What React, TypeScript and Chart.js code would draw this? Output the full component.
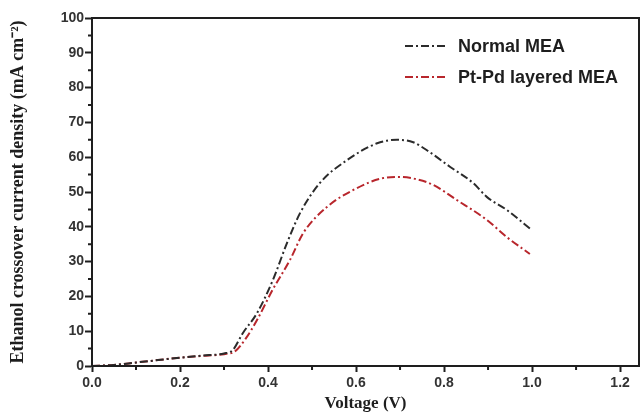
import React, { useEffect, useRef } from "react";
import { Chart, registerables } from "chart.js";

Chart.register(...registerables);

const normalVoltage = [0, 0.05, 0.1, 0.15, 0.2, 0.25, 0.3, 0.32, 0.343, 0.375, 0.411, 0.443, 0.473, 0.518, 0.58, 0.648, 0.693, 0.73, 0.761, 0.814, 0.866, 0.897, 0.943, 1.0];
const normalCurrent = [0, 0.3, 1.0, 1.7, 2.4, 3.0, 3.6, 4.6, 9.5, 15.2, 24.7, 35.3, 44.0, 52.6, 59.2, 64.0, 65.0, 64.3, 62.0, 57.2, 52.6, 48.6, 44.8, 39.0];

const layeredVoltage = [0, 0.05, 0.1, 0.15, 0.2, 0.25, 0.3, 0.325, 0.35, 0.375, 0.41, 0.45, 0.48, 0.534, 0.594, 0.662, 0.7, 0.74, 0.776, 0.829, 0.897, 0.943, 0.995];
const layeredCurrent = [0, 0.3, 1.0, 1.7, 2.4, 2.9, 3.4, 4.2, 8.0, 13.2, 21.8, 30.5, 38.2, 45.7, 50.6, 54.0, 54.3, 53.6, 52.0, 47.7, 42.0, 37.0, 32.2];

const seriesLabels = ["Normal MEA", "Pt-Pd layered MEA"];
const seriesColors = ["#2b2b2b", "#b8262c"];
const xMinorTicks = [0.1, 0.3, 0.5, 0.7, 0.9, 1.1];
const yMinorTicks = [5, 15, 25, 35, 45, 55, 65, 75, 85, 95];
const xTitle = "Voltage (V)";
const yTitle = "Ethanol crossover current density (mA cm\u207B\u00B2)";

const dashPattern = [8, 3, 2, 3];

const framePlugin = {
  id: "frameAndLegend",
  afterDraw(chart: any) {
    const ctx = chart.ctx;
    const { left, right, top, bottom } = chart.chartArea;
    const xs = chart.scales.x;
    const ys = chart.scales.y;
    ctx.save();
    ctx.strokeStyle = "#1e1e1e";
    ctx.lineWidth = 2;
    ctx.strokeRect(left, top, right - left, bottom - top);
    ctx.lineWidth = 2;
    ctx.beginPath();
    xMinorTicks.forEach((v) => {
      const px = xs.getPixelForValue(v);
      ctx.moveTo(px, bottom);
      ctx.lineTo(px, bottom + 4);
    });
    yMinorTicks.forEach((v) => {
      const py = ys.getPixelForValue(v);
      ctx.moveTo(left - 4, py);
      ctx.lineTo(left, py);
    });
    ctx.stroke();

    // legend
    seriesLabels.forEach((label, i) => {
      const y = top + 28 + i * 31;
      ctx.strokeStyle = seriesColors[i];
      ctx.lineWidth = 2;
      ctx.setLineDash(dashPattern);
      ctx.beginPath();
      ctx.moveTo(right - 234, y);
      ctx.lineTo(right - 192, y);
      ctx.stroke();
      ctx.setLineDash([]);
      ctx.fillStyle = "#1e1e1e";
      ctx.font = "bold 18px 'Liberation Sans', Arial, sans-serif";
      ctx.textBaseline = "middle";
      ctx.textAlign = "left";
      ctx.fillText(label, right - 181, y + 1);
    });
    ctx.restore();
  },
};

export default function App() {
  const ref = useRef<HTMLCanvasElement | null>(null);
  useEffect(() => {
    document.body.style.margin = "0";
    const canvas = ref.current;
    if (!canvas) return;
    const tickFont = { family: "'Liberation Sans', Arial, sans-serif", weight: "bold" as const, size: 14 };
    const titleFontFamily = "'Liberation Serif', 'Times New Roman', serif";
    const chart = new Chart(canvas, {
      type: "line",
      data: {
        datasets: [
          {
            label: seriesLabels[0],
            data: normalVoltage.map((v, i) => ({ x: v, y: normalCurrent[i] })),
            borderColor: seriesColors[0],
            borderWidth: 2,
            borderDash: dashPattern,
            pointRadius: 0,
            cubicInterpolationMode: "monotone",
            fill: false,
          },
          {
            label: seriesLabels[1],
            data: layeredVoltage.map((v, i) => ({ x: v, y: layeredCurrent[i] })),
            borderColor: seriesColors[1],
            borderWidth: 2,
            borderDash: dashPattern,
            pointRadius: 0,
            cubicInterpolationMode: "monotone",
            fill: false,
          },
        ],
      },
      options: {
        animation: false,
        responsive: false,
        maintainAspectRatio: false,
        layout: { padding: { top: 18, right: 2, left: 0, bottom: 0 } },
        plugins: { legend: { display: false }, tooltip: { enabled: false } },
        scales: {
          x: {
            type: "linear",
            min: 0,
            max: 1.243,
            ticks: {
              stepSize: 0.2,
              includeBounds: false,
              callback: (v: any) => Number(v).toFixed(1),
              font: tickFont,
              color: "#333",
              padding: 3,
              maxRotation: 0,
              autoSkip: false,
            },
            grid: { drawOnChartArea: false, tickLength: 6, tickColor: "#1e1e1e", tickWidth: 2 },
            border: { color: "#1e1e1e", width: 2 },
            title: {
              display: true,
              text: xTitle,
              font: { family: titleFontFamily, weight: "bold", size: 17 },
              color: "#1e1e1e",
              padding: { top: 0, bottom: 0 },
            },
            afterFit: (s: any) => {
              s.height = 48;
            },
          },
          y: {
            min: 0,
            max: 100,
            ticks: {
              stepSize: 10,
              font: tickFont,
              color: "#333",
              padding: 1,
            },
            grid: { drawOnChartArea: false, tickLength: 7, tickColor: "#1e1e1e", tickWidth: 2 },
            border: { color: "#1e1e1e", width: 2 },
            title: {
              display: true,
              text: yTitle,
              font: { family: titleFontFamily, weight: "bold", size: 18 },
              color: "#1e1e1e",
              padding: { top: 8, bottom: 0 },
            },
            afterFit: (s: any) => {
              s.width = 92;
            },
          },
        },
      },
      plugins: [framePlugin],
    });
    return () => chart.destroy();
  }, []);
  return <canvas ref={ref} width={641} height={414} style={{ display: "block" }} />;
}
